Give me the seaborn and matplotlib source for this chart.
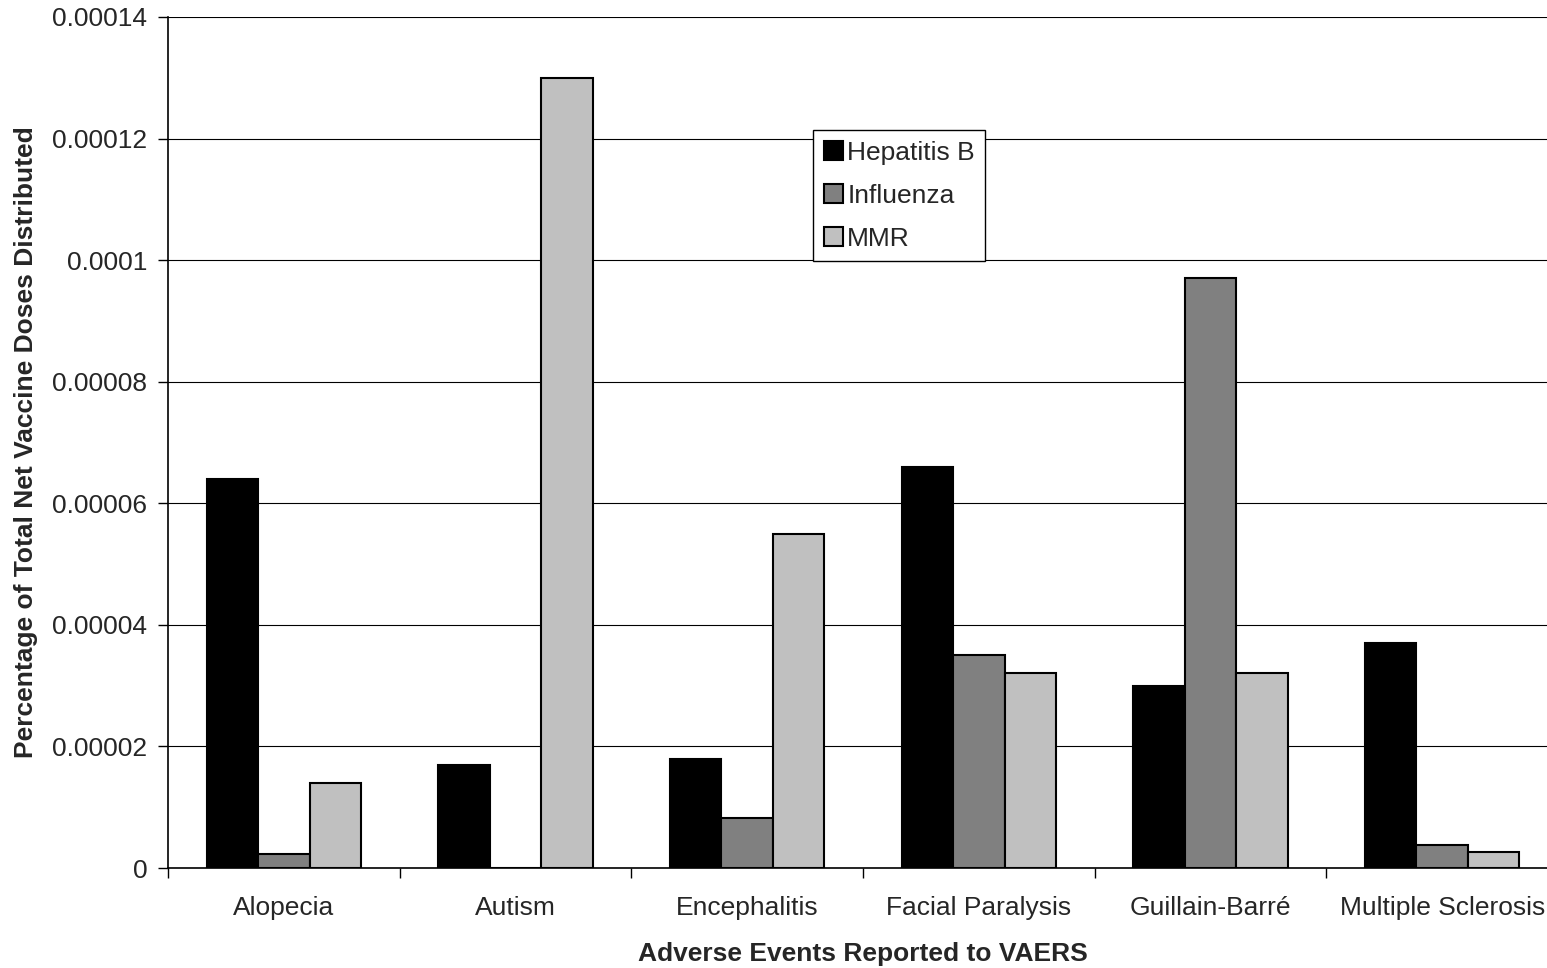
import numpy as np
import pandas as pd
import matplotlib
matplotlib.use("Agg")
import matplotlib.pyplot as plt
import seaborn as sns

categories = ["Alopecia", "Autism", "Encephalitis", "Facial Paralysis", "Guillain-Barré", "Multiple Sclerosis"]
hep_b = [0.000064, 0.000017, 0.000018, 0.000066, 0.000030, 0.000037]
influenza = [0.0000023, 0.0, 0.0000082, 0.000035, 0.000097, 0.0000038]
mmr = [0.000014, 0.00013, 0.000055, 0.000032, 0.000032, 0.0000026]
series = ["Hepatitis B", "Influenza", "MMR"]
colors = ["#000000", "#808080", "#c0c0c0"]
yticks = [0, 0.00002, 0.00004, 0.00006, 0.00008, 0.0001, 0.00012, 0.00014]
ytick_labels = ["0", "0.00002", "0.00004", "0.00006", "0.00008", "0.0001", "0.00012", "0.00014"]

df = pd.DataFrame({
    "category": categories * 3,
    "series": [series[0]] * 6 + [series[1]] * 6 + [series[2]] * 6,
    "value": hep_b + influenza + mmr,
})

sns.set_style("white")
plt.rcParams["font.family"] = ["Liberation Sans", "DejaVu Sans"]
FS = 19

fig = plt.figure(figsize=(15.47, 9.68), dpi=100)
ax = fig.add_axes([168 / 1547, 1 - 868 / 968, 1390 / 1547, 851 / 968])

sns.barplot(data=df, x="category", y="value", hue="series", order=categories,
            hue_order=series, palette=colors, width=0.667, edgecolor="black",
            linewidth=1.5, saturation=1, ax=ax, zorder=3, legend=True)

ax.set_ylim(0, 0.00014)
ax.set_xlim(-0.5, 5.5)
ax.set_yticks(yticks)
ax.set_yticklabels(ytick_labels, fontsize=FS)
ax.yaxis.grid(True, color="black", linewidth=0.8, zorder=0)
ax.set_axisbelow(True)
ax.set_xticks(range(6))
ax.set_xticklabels(categories, fontsize=FS)
ax.set_xticks(np.arange(-0.5, 6.0, 1.0), minor=True)
ax.tick_params(axis="x", which="major", length=0, pad=20)
ax.tick_params(axis="x", which="minor", length=7, width=1, color="black", direction="out", bottom=True)
ax.tick_params(axis="y", which="major", length=7, width=1, color="black", direction="out", left=True, pad=8)

for s in ["top", "right"]:
    ax.spines[s].set_visible(False)
for s in ["left", "bottom"]:
    ax.spines[s].set_color("black")
    ax.spines[s].set_linewidth(1.2)

ax.set_xlabel("Adverse Events Reported to VAERS", fontsize=FS, fontweight="bold", labelpad=16)
ax.set_ylabel("Percentage of Total Net Vaccine Doses Distributed", fontsize=FS, fontweight="bold", labelpad=10)

leg = ax.legend(loc="upper left", bbox_to_anchor=(0.464, 0.867), borderaxespad=0,
                fontsize=FS, frameon=True, fancybox=False, edgecolor="black",
                handlelength=0.75, handleheight=0.75, handletextpad=0.15,
                labelspacing=0.72, borderpad=0.4, title=None)
leg.get_frame().set_linewidth(1.0)
leg.get_frame().set_alpha(1)
for h in leg.legend_handles:
    h.set_edgecolor("black")
    h.set_linewidth(1.5)

fig.savefig("out.png", dpi=100)
